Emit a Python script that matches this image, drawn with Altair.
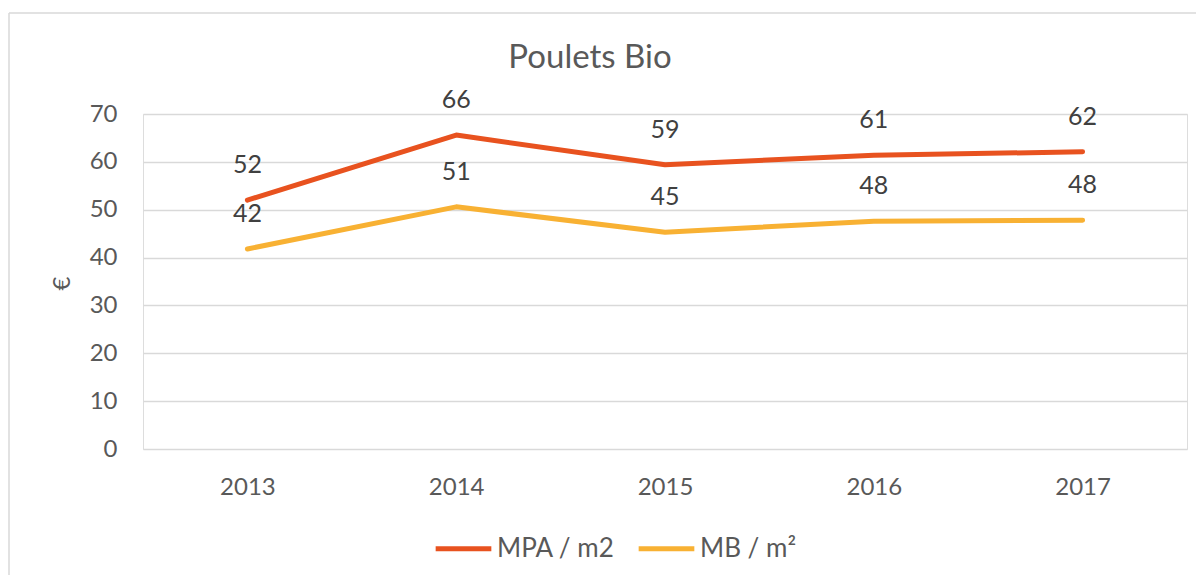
import altair as alt
import pandas as pd

years = ["2013", "2014", "2015", "2016", "2017"]
mpa = [52.0, 65.6, 59.4, 61.4, 62.1]
mb = [41.8, 50.6, 45.3, 47.6, 47.8]
series_names = ["MPA / m2", "MB / m²"]
colors = ["#E8521F", "#F8B133"]
y_ticks = [0, 10, 20, 30, 40, 50, 60, 70]
title_text = ["Poulets Bio"]

rows = []
for name, vals in zip(series_names, [mpa, mb]):
    for yr, v in zip(years, vals):
        rows.append({"year": yr, "series": name, "value": v})
df = pd.DataFrame(rows)

FONT = "Lato"
GREY = "#595959"

x_enc = alt.X(
    "year:N",
    scale=alt.Scale(padding=0.5),
    axis=alt.Axis(title=None, labelAngle=0, ticks=False, domain=False, grid=False,
                  labelFontSize=24, labelFont=FONT, labelColor=GREY, labelPadding=26),
)
y_enc = alt.Y(
    "value:Q",
    scale=alt.Scale(domain=[0, 70], nice=False),
    axis=alt.Axis(title="€", values=y_ticks, ticks=False, domain=False, grid=True,
                  gridColor="#d9d9d9", gridWidth=1.5,
                  labelFontSize=24, labelFont=FONT, labelColor=GREY, labelPadding=26,
                  titleFontSize=24, titleFont=FONT, titleColor=GREY, titleFontWeight="normal",
                  titleX=-81, titleY=169, titleAngle=270, titleAlign="center", titleBaseline="middle"),
)
color_enc = alt.Color(
    "series:N",
    scale=alt.Scale(domain=series_names, range=colors),
    legend=alt.Legend(title=None, orient="none", legendX=290, legendY=404, direction="horizontal",
                      symbolType="stroke", symbolStrokeWidth=5, symbolSize=3100,
                      labelFontSize=26, labelFont=FONT, labelColor=GREY, columnPadding=13,
                      symbolOffset=0, labelOffset=3, padding=0, labelBaseline="middle"),
)

base = alt.Chart(df)
lines = base.mark_line(strokeWidth=5, strokeCap="round", strokeJoin="round").encode(
    x=x_enc, y=y_enc, color=color_enc, order=alt.Order("year:N")
)
labels = base.mark_text(dy=-35, fontSize=25, font=FONT, color="#404040").encode(
    x=alt.X("year:N"), y=alt.Y("value:Q"), detail="series:N",
    text=alt.Text("value:Q", format=".0f"),
)

frame = pd.DataFrame({"k": [0]})
left_border = alt.Chart(frame).mark_rule(color="#d9d9d9", strokeWidth=1.5).encode(
    x=alt.value(-134), y=alt.value(-101), y2=alt.value(470)
)
top_border = alt.Chart(frame).mark_rule(color="#d9d9d9", strokeWidth=1.5).encode(
    x=alt.value(-134), x2=alt.value(1060), y=alt.value(-101)
)
title = alt.Chart(pd.DataFrame({"t": title_text})).mark_text(
    font=FONT, fontSize=33, color=GREY, align="center", baseline="alphabetic"
).encode(text="t:N", x=alt.value(447), y=alt.value(-46))

chart = alt.layer(left_border, top_border, lines, labels, title).properties(
    width=1044,
    height=335,
    autosize=alt.AutoSizeParams(type="none"),
    padding={"left": 135, "top": 106, "right": 9, "bottom": 126},
).configure_view(stroke=None).configure(background="white")

chart.save("out.html", embed_options={"renderer": "svg", "actions": False})
